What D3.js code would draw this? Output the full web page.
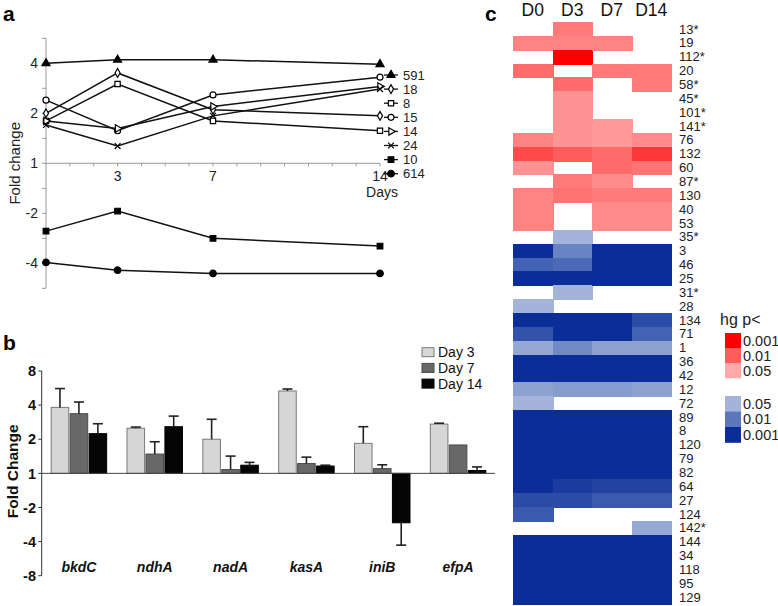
<!DOCTYPE html>
<html><head><meta charset="utf-8">
<script src="https://cdn.jsdelivr.net/npm/d3@7"></script>
<style>body{margin:0;background:#fff}svg{display:block;font-family:"Liberation Sans",Arial,sans-serif}</style>
</head><body><svg id="c" width="778" height="606"></svg>
<script>
// ---------- Panel a data ----------
const aDays = [0, 3, 7, 14];
const aNames = ["591", "18", "8", "15", "14", "24", "10", "614"];
const a591 = [4.0, 4.2, 4.2, 3.95];
const a18 = [2.0, 3.5, 2.1, 1.93];
const a8 = [1.8, 3.0, 1.8, 1.57];
const a15 = [2.4, 1.57, 2.58, 3.3];
const a14 = [1.8, 1.62, 2.2, 2.9];
const a24 = [1.7, 1.27, 1.93, 2.8];
const a10 = [-2.56, -1.94, -2.83, -3.15];
const a614 = [-3.95, -4.4, -4.6, -4.6];
const aTicks = [4, 2, 1, -2, -4];
const aDayLabels = [3, 7, 14];

// ---------- Panel b data ----------
const bGenes = ["bkdC", "ndhA", "nadA", "kasA", "iniB", "efpA"];
const bDays = ["Day 3", "Day 7", "Day 14"];
const bDay3 = [3.82, 2.5, 2.0, 5.33, 1.84, 2.72];
const bDay7 = [3.36, 1.48, 1.08, 1.22, 1.1, 1.78];
const bDay14 = [2.24, 2.58, 1.18, 1.16, -2.73, 1.06];
const bErr3 = [5.6, 2.56, 3.0, 5.55, 2.58, 2.77];
const bErr7 = [4.26, 1.9, 1.42, 1.39, 1.19, null];
const bErr14 = [2.74, 3.2, 1.25, 1.18, -4.3, 1.14];
const bTicks = [8, 4, 2, 1, -2, -4, -8];

// ---------- Panel c data (score: +red / -blue; 1=p<0.05, 2=p<0.01, 3=p<0.001) ----------
const cCols = ["D0", "D3", "D7", "D14"];
const cRows = ["13*","19","112*","20","58*","45*","101*","141*","76","132","60","87*","130","40","53","35*","3","46","25","31*","28","134","71","1","36","42","12","72","89","8","120","79","82","64","27","124","142*","144","34","118","95","129"];
const cD0 = [0,1.5,0,1.8,0,0,0,0,1.5,2.2,1.3,0,1.5,1.5,1.5,0,-3,-2.3,-3,0,-1,-3,-2.5,-1.2,-3,-3,-1.3,-1,-3,-3,-3,-3,-3,-3,-2.6,-2.4,0,-3,-3,-3,-3,-3];
const cD3 = [1.6,1.5,3,0,1.8,1.3,1.3,1.3,1.3,2.0,0,1.6,1.7,0,0,-1,-1.8,-2.2,-3,-1,0,-3,-3,-1.7,-3,-3,-1.4,0,-3,-3,-3,-3,-3,-2.8,-2.6,0,0,-3,-3,-3,-3,-3];
const cD7 = [0,1.5,0,1.6,0,0,0,1.2,1.2,1.8,1.8,1.4,1.6,1.4,1.4,0,-3,-3,-3,0,0,-3,-3,-1.3,-3,-3,-1.4,0,-3,-3,-3,-3,-3,-2.7,-2.4,0,0,-3,-3,-3,-3,-3];
const cD14 = [0,0,0,1.6,1.6,0,0,0,1.4,2.4,1.7,0,1.6,1.4,1.4,0,-3,-3,-3,0,0,-2.6,-2.3,-1.3,-3,-3,-1.3,0,-3,-3,-3,-3,-3,-2.7,-2.4,0,-1.2,-3,-3,-3,-3,-3];
const cLegRed = ["0.001", "0.01", "0.05"];
const cLegBlue = ["0.05", "0.01", "0.001"];

const svg = d3.select("#c");
const tf = f => f >= 0 ? Math.log2(f) : -Math.log2(-f);

// ===================== Panel a =====================
const xA = d3.scaleLinear().domain([0, 14]).range([46, 380]);
const yA = d3.scaleLinear().domain([-2.5, 2.5]).range([288.3, 38.3]);
const gA = svg.append("g");
gA.append("text").attr("x", 3).attr("y", 21).attr("font-size", 21).attr("font-weight", "bold").text("a");
gA.append("line").attr("x1", 46).attr("x2", 46).attr("y1", yA(2.5)).attr("y2", yA(-2.5)).attr("stroke", "#999");
gA.append("line").attr("x1", 46).attr("x2", xA(14)).attr("y1", yA(0)).attr("y2", yA(0)).attr("stroke", "#999");
d3.range(-2.5, 2.51, 0.5).forEach(v => {
  gA.append("line").attr("x1", 42).attr("x2", 46).attr("y1", yA(v)).attr("y2", yA(v)).attr("stroke", "#999");
});
d3.range(1, 15).forEach(d => {
  gA.append("line").attr("x1", xA(d)).attr("x2", xA(d)).attr("y1", yA(0)).attr("y2", yA(0) + 3).attr("stroke", "#999");
});
aTicks.forEach(t => {
  gA.append("text").attr("x", 38).attr("y", yA(tf(t))).attr("dy", "0.35em").attr("text-anchor", "end")
    .attr("font-size", 14).attr("fill", "#222").text(t);
});
aDayLabels.forEach(d => {
  gA.append("text").attr("x", xA(d)).attr("y", yA(0) + 18).attr("text-anchor", "middle").attr("font-size", 14).attr("fill", "#222").text(d);
});
gA.append("text").attr("x", xA(14) + 2).attr("y", yA(0) + 34).attr("text-anchor", "middle").attr("font-size", 14).attr("fill", "#222").text("Days");
gA.append("text").attr("transform", `translate(20,${yA(0)}) rotate(-90)`).attr("text-anchor", "middle")
  .attr("font-size", 15).attr("fill", "#222").text("Fold change");

const aSeries = [a591, a18, a8, a15, a14, a24, a10, a614];
const aSym = [
  {t: d3.symbolTriangle, fill: "#000", s: 28},
  {t: d3.symbolDiamond, fill: "#fff", s: 22},
  {t: d3.symbolSquare, fill: "#fff", s: 28},
  {t: d3.symbolCircle, fill: "#fff", s: 28},
  {t: d3.symbolTriangle, fill: "#fff", s: 24, rot: 90},
  {t: d3.symbolTimes, fill: "none", s: 24},
  {t: d3.symbolSquare, fill: "#000", s: 32},
  {t: d3.symbolCircle, fill: "#000", s: 34}
];
const lineA = d3.line().x((d, i) => xA(aDays[i])).y(d => yA(tf(d)));
aSeries.forEach((s, k) => {
  gA.append("path").attr("d", lineA(s)).attr("fill", "none").attr("stroke", "#111").attr("stroke-width", 1.5);
});
function drawSym(g, k, x, y) {
  const m = aSym[k];
  g.append("path").attr("d", d3.symbol().type(m.t).size(m.s)())
    .attr("transform", `translate(${x},${y})` + (m.rot ? ` rotate(${m.rot})` : ""))
    .attr("fill", m.fill).attr("stroke", "#000").attr("stroke-width", 1.2);
}
aSeries.forEach((s, k) => {
  s.forEach((v, i) => drawSym(gA, k, xA(aDays[i]), yA(tf(v))));
});
aNames.forEach((n, k) => {
  const y = 75 + k * 14.1;
  gA.append("line").attr("x1", 384).attr("x2", 398).attr("y1", y).attr("y2", y).attr("stroke", "#111").attr("stroke-width", 1.3);
  drawSym(gA, k, 391, y);
  gA.append("text").attr("x", 403).attr("y", y).attr("dy", "0.35em").attr("font-size", 13).attr("fill", "#222").text(n);
});

// ===================== Panel b =====================
const gB = svg.append("g");
const xB = d3.scaleBand().domain(bGenes).range([41, 496]).paddingInner(0.255).paddingOuter(0.1275);
const xSub = d3.scaleBand().domain(bDays).range([0, xB.bandwidth()]).paddingInner(0.02);
const yB = d3.scaleLinear().domain([-3, 3]).range([575.7, 371]);
const bColors = ["#d6d6d6", "#686868", "#050505"];
const bStroke = ["#7a7a7a", "#4a4a4a", "#000"];
gB.append("text").attr("x", 3).attr("y", 350).attr("font-size", 21).attr("font-weight", "bold").text("b");
gB.append("line").attr("x1", 41.7).attr("x2", 41.7).attr("y1", yB(3)).attr("y2", yB(-3)).attr("stroke", "#333");
bTicks.forEach(t => {
  gB.append("line").attr("x1", 38.3).attr("x2", 41.7).attr("y1", yB(tf(t))).attr("y2", yB(tf(t))).attr("stroke", "#333");
  gB.append("text").attr("x", 36).attr("y", yB(tf(t))).attr("dy", "0.36em").attr("text-anchor", "end")
    .attr("font-size", 14.5).attr("font-weight", "bold").attr("fill", "#111").text(t);
});
gB.append("text").attr("transform", `translate(18,${yB(0) - 2}) rotate(-90)`).attr("text-anchor", "middle")
  .attr("font-size", 15.5).attr("font-weight", "bold").attr("fill", "#111").text("Fold Change");
const bVals = [bDay3, bDay7, bDay14];
const bErrs = [bErr3, bErr7, bErr14];
bGenes.forEach((g, gi) => {
  bDays.forEach((d, di) => {
    const v = bVals[di][gi];
    const x = xB(g) + xSub(d);
    const w = xSub.bandwidth();
    const y0 = yB(0), y1 = yB(tf(v));
    gB.append("rect").attr("x", x + 0.5).attr("width", w - 1)
      .attr("y", Math.min(y0, y1)).attr("height", Math.abs(y1 - y0))
      .attr("fill", bColors[di]).attr("stroke", bStroke[di]).attr("stroke-width", 1);
    const e = bErrs[di][gi];
    if (e != null) {
      const ye = yB(tf(e));
      const cx = x + w / 2;
      gB.append("line").attr("x1", cx).attr("x2", cx).attr("y1", y1).attr("y2", ye).attr("stroke", "#222").attr("stroke-width", 1.6);
      gB.append("line").attr("x1", cx - 5).attr("x2", cx + 5).attr("y1", ye).attr("y2", ye).attr("stroke", "#222").attr("stroke-width", 1.6);
    }
  });
  gB.append("text").attr("x", xB(g) + xB.bandwidth() / 2).attr("y", 572).attr("text-anchor", "middle")
    .attr("font-size", 14).attr("font-weight", "bold").attr("font-style", "italic").attr("fill", "#111").text(g);
});
gB.append("line").attr("x1", 41.7).attr("x2", 495).attr("y1", yB(0)).attr("y2", yB(0)).attr("stroke", "#444");
bDays.forEach((d, i) => {
  const y = 347.7 + i * 15.7;
  gB.append("rect").attr("x", 422).attr("y", y).attr("width", 12).attr("height", 9)
    .attr("fill", bColors[i]).attr("stroke", bStroke[i]);
  gB.append("text").attr("x", 438).attr("y", y + 4.5).attr("dy", "0.36em").attr("font-size", 14).attr("fill", "#111").text(d);
});

// ===================== Panel c =====================
const gC = svg.append("g");
gC.append("text").attr("x", 485).attr("y", 21).attr("font-size", 21).attr("font-weight", "bold").text("c");
const xC = d3.scaleBand().domain(cCols).range([513, 671]);
const yC = d3.scaleBand().domain(d3.range(cRows.length)).range([22, 604]);
const redC = d3.scaleLinear().domain([1, 2, 3]).range(["#ffaaaa", "#ff5c5c", "#ff0000"]).clamp(true);
const blueC = d3.scaleLinear().domain([1, 2, 3]).range(["#a3b3d9", "#5b78bd", "#0a2d97"]).clamp(true);
const colorC = v => v > 0 ? redC(v) : blueC(-v);
const cData = [cD0, cD3, cD7, cD14];
const cells = gC.append("g").attr("shape-rendering", "crispEdges");
cCols.forEach((c, ci) => {
  cData[ci].forEach((v, ri) => {
    if (!v) return;
    cells.append("rect").attr("x", xC(c)).attr("y", yC(ri)).attr("width", xC.bandwidth() + 1).attr("height", yC.bandwidth() + 1)
      .attr("fill", colorC(v));
  });
  gC.append("text").attr("x", xC(c) + xC.bandwidth() / 2).attr("y", 16).attr("text-anchor", "middle")
    .attr("font-size", 17.5).attr("fill", "#111").text(c);
});
cRows.forEach((r, ri) => {
  gC.append("text").attr("x", 679).attr("y", yC(ri) + yC.bandwidth() / 2).attr("dy", "0.36em")
    .attr("font-size", 13).attr("fill", "#222").text(r);
});
gC.append("text").attr("x", 720).attr("y", 325).attr("font-size", 16).attr("fill", "#222").text("hg p<");
const legRedVals = [3, 2, 1];
cLegRed.forEach((t, i) => {
  const y = 333 + i * 15;
  gC.append("rect").attr("x", 725).attr("y", y).attr("width", 16).attr("height", 15.3).attr("fill", redC(legRedVals[i]));
  gC.append("text").attr("x", 743).attr("y", y + 7.5).attr("dy", "0.36em").attr("font-size", 14.5).attr("fill", "#222").text(t);
});
const legBlueVals = [1, 2, 3];
cLegBlue.forEach((t, i) => {
  const y = 396 + i * 15.5;
  gC.append("rect").attr("x", 725).attr("y", y).attr("width", 16).attr("height", 15.8).attr("fill", blueC(legBlueVals[i]));
  gC.append("text").attr("x", 743).attr("y", y + 7.7).attr("dy", "0.36em").attr("font-size", 14.5).attr("fill", "#222").text(t);
});
</script></body></html>
